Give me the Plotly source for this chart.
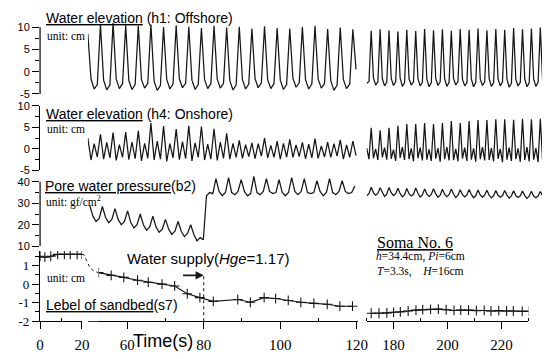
import numpy as np
import plotly.graph_objects as go

W, H = 555, 359
def px(x): return x / W
def py(y): return 1 - y / H

# ---------------- data ----------------
STEP = 0.825            # sampling step of the wave records (s)
SEG2_T0 = 49.7          # first sample of the 2nd time window
B2_SEG2_T0 = 50.2
SEG3_T0 = 170.05        # first sample of the 3rd time window

# Water elevation h1 (offshore), cm
H1_SEG2 = [
    8.5, -1.6, -3.9, -2.9, 10.6, -1.9, -4.1, -3.0, 10.9, -1.7, -3.8, -2.7,
    10.4, -2.0, -4.0, -2.9, 10.3, -1.8, -3.7, -2.6, 10.6, -2.1, -4.2, -3.1,
    10.0, -1.7, -3.9, -2.8, 10.4, -1.6, -3.6, -2.6, 10.1, -1.9, -4.0, -2.9,
    9.8, -1.8, -3.8, -2.7, 10.3, -1.7, -3.7, -2.6, 9.9, -2.0, -4.1, -3.0,
    10.1, -1.8, -3.9, -2.8, 9.7, -1.6, -3.6, -2.5, 10.2, -1.8, -3.8, -2.7,
    9.8, -1.9, -4.0, -2.9, 9.7, -1.5, -3.5, -2.5, 10.0, -1.8, -3.9, -2.8,
    10.3, -1.7, -3.7, -2.7, 9.6, -2.0, -4.2, -3.0, 9.9, -1.8, -3.8, -2.8,
    9.5, 0.5]
H1_SEG3 = [
    -2.6, -2.2, 9.2, -1.4, -3.0, -2.3, 9.5, -1.6, -3.2, -2.4, 9.3, -1.5,
    -3.1, -2.2, 9.0, -1.4, -3.3, -2.5, 9.4, -1.6, -3.0, -2.3, 9.1, -1.5,
    -3.2, -2.4, 9.6, -1.7, -3.4, -2.5, 9.3, -1.5, -3.1, -2.3, 9.5, -1.6,
    -3.3, -2.4, 9.2, -1.5, -3.0, -2.2, 9.6, -1.7, -3.2, -2.5, 9.4, -1.6,
    -3.4, -2.4, 9.7, -1.7, -3.1, -2.3, 9.3, -1.5, -3.3, -2.5, 9.6, -1.6,
    -3.2, -2.3, 9.4, -1.6, -3.5, -2.6, 9.8, -1.8, -3.2, -2.4, 9.5, -1.6,
    -3.4, -2.5, 9.7, -1.7, -3.3, -2.4, 9.9, -1.8]

# Water elevation h4 (onshore), cm
H4_SEG2 = [
    2.5, -2.6, 1.2, -1.9, 3.4, -2.4, 1.5, -2.1, 3.8, -2.7, 1.0, -2.0,
    3.9, -2.5, 1.6, -2.3, 4.2, -2.8, 1.3, -2.2, 6.0, -2.6, 1.8, -2.4,
    5.3, -2.9, 1.2, -2.1, 4.6, -2.5, 1.7, -2.3, 5.4, -2.8, 1.4, -2.0,
    5.2, -2.6, 1.1, -2.4, 4.7, -2.7, 1.6, -2.2, 3.6, -2.4, 1.3, -2.0,
    2.0, -2.2, 1.0, -1.8, 1.4, -2.3, 1.2, -1.7, 2.5, -2.1, 0.8, -2.0,
    1.8, -2.4, 1.3, -1.9, 2.2, -2.0, 0.9, -1.8, 1.5, -2.3, 1.1, -2.1,
    2.4, -2.2, 0.7, -1.9, 1.6, -2.0, 1.2, -1.7, 2.1, -2.4, 0.9, -2.0,
    1.8, -1.6]
H4_SEG3 = [
    0.2, -2.4, 4.9, -2.2, 0.0, -2.6, 4.3, -2.0, 0.3, -2.5, 4.9, -2.3,
    -0.2, -2.8, 5.4, -2.1, 0.4, -2.6, 5.8, -2.4, 0.1, -2.9, 5.8, -2.2,
    0.3, -2.7, 6.0, -2.5, -0.1, -2.8, 5.8, -2.3, 0.2, -3.0, 6.0, -2.4,
    0.4, -2.7, 6.5, -2.6, 0.0, -2.9, 6.0, -2.3, 0.3, -2.8, 6.5, -2.5,
    0.1, -3.0, 6.7, -2.4, 0.4, -2.7, 6.7, -2.6, 0.2, -2.9, 6.9, -2.3,
    0.0, -3.1, 6.9, -2.5, 0.3, -2.8, 6.8, -2.4, 0.1, -3.0, 7.0, -2.6,
    0.4, -2.9, 6.9, -2.5, 0.2, -3.1, 7.0, -2.6]

# Pore water pressure b2, gf/cm2
B2_SEG2 = [
    29.0, 24.0, 21.5, 23.0, 28.5, 23.5, 21.0, 22.5, 27.5, 22.5, 20.0, 21.5,
    26.5, 21.0, 18.5, 20.0, 25.0, 20.0, 17.5, 19.0, 24.0, 19.0, 16.5, 18.0,
    22.5, 18.0, 15.5, 17.0, 21.5, 17.0, 14.5, 16.0, 20.0, 15.5, 12.5, 14.0,
    13.0, 33.5, 35.0, 34.5, 41.5, 35.5, 33.5, 35.0, 42.0, 35.0, 34.0, 35.5,
    41.0, 35.5, 33.5, 34.5, 42.5, 35.0, 34.0, 35.5, 41.5, 35.5, 34.5, 35.0,
    41.0, 35.0, 33.5, 35.0, 42.0, 35.5, 34.0, 35.5, 41.5, 35.0, 34.5, 35.0,
    40.5, 35.5, 33.5, 35.0, 41.5, 35.0, 34.0, 35.5, 40.5, 35.5, 34.5, 35.0,
    38.0]
B2_SEG3 = [
    33.5, 34.5, 37.5, 35.0, 33.8, 34.6, 37.2, 34.8, 33.2, 34.2, 37.4, 34.9,
    33.6, 34.5, 37.0, 34.6, 33.0, 34.0, 36.9, 34.5, 33.4, 34.2, 37.1, 34.7,
    32.9, 33.9, 36.7, 34.3, 33.2, 34.1, 36.8, 34.4, 32.8, 33.8, 36.5, 34.2,
    33.1, 34.0, 36.6, 34.3, 32.7, 33.7, 36.3, 34.0, 33.0, 33.9, 36.4, 34.1,
    32.6, 33.6, 36.2, 33.9, 32.9, 33.8, 36.1, 33.8, 32.5, 33.5, 35.9, 33.7,
    32.8, 33.6, 36.0, 33.8, 32.4, 33.4, 35.8, 33.6, 32.7, 33.5, 35.7, 33.5,
    32.3, 33.3, 35.6, 33.4, 32.6, 33.4, 35.5, 33.5]

# Level of sandbed s7, cm
S7_SEG1_T = [0, 2.3, 5.1, 8.4, 11.6, 14.4, 17.7, 20.0]
S7_SEG1_V = [1.50, 1.45, 1.50, 1.60, 1.60, 1.60, 1.60, 1.60]
S7_GAP_T = [20.0, 23.8, 27.6, 31.5, 35.3, 41.0, 46.8, 52.5]
S7_GAP_V = [1.60, 1.58, 1.35, 1.10, 0.90, 0.75, 0.66, 0.62]
S7_SEG2_T = [52.5, 55.8, 59.1, 62.7, 65.5, 69.1, 72.4, 75.7, 79.0, 82.5,
             88.9, 92.2, 95.8, 98.8, 102.1, 105.4, 108.8, 112.3, 115.6, 118.9]
S7_SEG2_V = [0.62, 0.47, 0.36, 0.21, 0.10, 0.00, -0.10, -0.52, -0.73, -0.93,
             -0.83, -0.98, -0.73, -0.78, -0.88, -0.98, -1.04, -1.09, -1.19, -1.19]
S7_SEG3_T = [171.7, 174.6, 177.5, 180.0, 182.5, 185.4, 188.3, 190.8, 193.7, 196.6,
             199.5, 202.4, 204.9, 207.8, 210.7, 213.6, 216.1, 219.0, 221.9, 224.4,
             227.7, 230.2]
S7_SEG3_V = [-1.57, -1.57, -1.55, -1.52, -1.50, -1.45, -1.40, -1.38, -1.36, -1.35,
             -1.38, -1.42, -1.40, -1.40, -1.43, -1.42, -1.45, -1.43, -1.45, -1.45,
             -1.47, -1.47]
SUPPLY_START_T = 80
SUPPLY_ARROW_FROM_T = 74.2
SUPPLY_LEVEL = 0.47

# tick labels
X1_TICKS = [0, 20]
X2_TICKS = [60, 80, 100, 120]
X3_TICKS = [180, 200, 220]
Y1_TICKS = [-5, 0, 5, 10]
Y2_TICKS = [-5, 0, 5, 10]
Y3_TICKS = [10, 20, 30, 40]
Y4_TICKS = [-2, -1, 0, 1]

def grid(t0, n):
    return t0 + STEP * np.arange(n)

INK = '#161616'
SANS = 'Liberation Sans, Arial, sans-serif'
SERIF = 'Liberation Serif, Times New Roman, serif'

fig = go.Figure()
wave = dict(color=INK, width=1.25)

def add_line(x, y, xa, ya, **kw):
    fig.add_trace(go.Scatter(x=x, y=y, xaxis=xa, yaxis=ya, mode='lines',
                             line=kw.pop('line', wave), showlegend=False,
                             hoverinfo='skip', **kw))

add_line(grid(SEG2_T0, len(H1_SEG2)), H1_SEG2, 'x2', 'y')
add_line(grid(SEG3_T0, len(H1_SEG3)), H1_SEG3, 'x4', 'y')
add_line(grid(SEG2_T0, len(H4_SEG2)), H4_SEG2, 'x2', 'y2')
add_line(grid(SEG3_T0, len(H4_SEG3)), H4_SEG3, 'x4', 'y2')
add_line(grid(B2_SEG2_T0, len(B2_SEG2)), B2_SEG2, 'x2', 'y3')
add_line(grid(SEG3_T0, len(B2_SEG3)), B2_SEG3, 'x4', 'y3')

mk = dict(symbol='cross-thin', size=7, line=dict(width=1.1, color=INK), color=INK)
for xs, ys, xa in [(S7_SEG1_T, S7_SEG1_V, 'x'), (S7_SEG2_T, S7_SEG2_V, 'x2'),
                   (S7_SEG3_T, S7_SEG3_V, 'x3')]:
    fig.add_trace(go.Scatter(x=xs, y=ys, xaxis=xa, yaxis='y4', mode='lines+markers',
                             line=dict(color=INK, width=1.1), marker=mk,
                             showlegend=False, hoverinfo='skip'))
add_line(S7_GAP_T, S7_GAP_V, 'x5', 'y4', line=dict(color=INK, width=1, dash='dot'))

# ---------------- axes ----------------
def xax(dom, rng, ticks, minor, visible=True, anchor='y4'):
    return dict(domain=[px(dom[0]), px(dom[1])], range=rng, anchor=anchor,
                visible=visible, showgrid=False, zeroline=False,
                showline=True, linecolor='black', linewidth=1.2,
                ticks='outside', ticklen=7, tickwidth=1.2, tickcolor='black',
                tickmode='array', tickvals=ticks, ticktext=[str(t) for t in ticks],
                ticklabelstandoff=3,
                tickfont=dict(family=SERIF, size=15, color='black'),
                minor=dict(tickmode='array', tickvals=minor, ticks='inside',
                           ticklen=3, tickwidth=1, tickcolor='black', showgrid=False))

def yax(dom, rng, ticks, minor, showline=True, font=SANS, size=11):
    return dict(domain=[py(dom[1]), py(dom[0])], range=rng, anchor='x',
                showgrid=False, zeroline=False, showline=showline,
                linecolor='black', linewidth=1.2,
                ticks='outside', ticklen=7, tickwidth=1.2, tickcolor='black',
                tickmode='array', tickvals=ticks,
                ticktext=[str(t) for t in ticks],
                tickfont=dict(family=font, size=size, color='black'),
                minor=dict(tickmode='array', tickvals=minor, ticks='outside',
                           ticklen=4, tickwidth=1, tickcolor='black', showgrid=False))

layout = dict(
    width=W, height=H, margin=dict(l=0, r=0, t=0, b=0),
    paper_bgcolor='white', plot_bgcolor='white', showlegend=False,
    xaxis=xax((37, 80), [0, 20], X1_TICKS, [10]),
    xaxis2=xax((86, 363), [49.7, 120.3], X2_TICKS, [50, 70, 90, 110]),
    xaxis3=xax((372, 538), [170, 230], X3_TICKS, [170, 190, 210, 230]),
    xaxis4=dict(domain=[px(372), px(552)], range=[170, 235.05], visible=False, anchor='y'),
    xaxis5=dict(domain=[px(80), px(97)], range=[20, 52.5], visible=False, anchor='y4'),
    yaxis=yax((15.5, 91.5), [-5, 11.4], Y1_TICKS, [-2.5, 2.5, 7.5], showline=False),
    yaxis2=yax((104, 171), [-5, 10], Y2_TICKS, [-2.5, 2.5, 7.5]),
    yaxis3=yax((174, 250), [10, 44.0], Y3_TICKS, [15, 25, 35], showline=False),
    yaxis4=yax((255, 328), [-2, 1.78], Y4_TICKS, [-1.5, -0.5, 0.5, 1.5],
               font=SERIF, size=13),
)
fig.update_layout(**layout)

# y-axis brackets where data overshoot the labelled range
for ya, lo, hi in [('y', -5, 10), ('y3', 10, 40)]:
    fig.add_shape(type='line', xref='x domain', yref=ya, x0=0, x1=0, y0=lo, y1=hi,
                  line=dict(color='black', width=1.2))
# start of water supply
fig.add_shape(type='line', xref='x2', yref='y4', x0=SUPPLY_START_T, x1=SUPPLY_START_T,
              y0=-2, y1=SUPPLY_LEVEL, line=dict(color=INK, width=1, dash='dot'))

def note(text, x, y, size, family=SANS, xanchor='left'):
    fig.add_annotation(text=text, xref='paper', yref='paper', x=px(x), y=py(y),
                       xanchor=xanchor, yanchor='middle', showarrow=False,
                       font=dict(family=family, size=size, color='black'))

note('<u>Water elevation</u> (h1: Offshore)', 41, 12, 14)
note('unit: cm', 42, 31, 11.5, SERIF)
note('<u>Water elevation</u> (h4: Onshore)', 41, 112, 14)
note('unit: cm', 42, 128, 11.5, SERIF)
note('<u>Pore water pressure</u>(b2)', 40, 187, 14)
note('unit: gf/cm<sup>2</sup>', 41, 203, 11.5, SERIF)
note('unit: cm', 42, 283, 11.5, SERIF)
note('<u>Lebel of sandbed</u>(s7)', 41, 311, 14)
note('Water supply(<i>Hge</i>=1.17)', 124, 263, 15)
note('<u>Soma No. 6</u>', 381, 246, 16, SERIF)
note('<i>h</i>=34.4cm, <i>Pi</i>=6cm', 380, 261, 11.5, SERIF)
note('<i>T</i>=3.3s,\u00a0\u00a0\u00a0\u00a0<i>H</i>=16cm', 381, 276, 11.5, SERIF)
note('Time(s)', 163, 349, 18, SANS, xanchor='center')

fig.add_annotation(x=SUPPLY_START_T, y=SUPPLY_LEVEL, xref='x2', yref='y4',
                   ax=SUPPLY_ARROW_FROM_T, ay=SUPPLY_LEVEL, axref='x2', ayref='y4',
                   showarrow=True, arrowhead=2, arrowsize=0.9, arrowwidth=1.8,
                   arrowcolor=INK, text='')

fig.write_html('out.html')
